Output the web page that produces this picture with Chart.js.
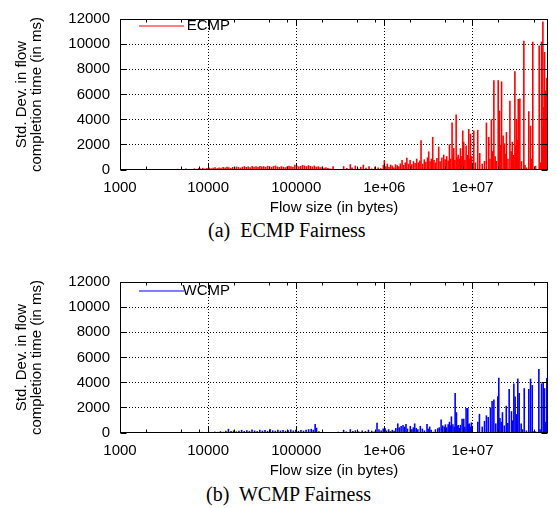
<!DOCTYPE html>
<html><head><meta charset="utf-8">
<script src="https://cdn.jsdelivr.net/npm/chart.js@4"></script>
<style>
html,body{margin:0;padding:0;background:#fff;}
body{width:557px;height:508px;position:relative;overflow:hidden;}
canvas{position:absolute;left:0;width:557px;height:216px;}
#c1{top:0}
#c2{top:263px}
.cap{position:absolute;font:20px "Liberation Serif","Times New Roman",serif;line-height:20px;white-space:pre;color:#000;}
</style></head><body>
<canvas id="c1" width="557" height="216"></canvas>
<canvas id="c2" width="557" height="216"></canvas>
<div class="cap" style="left:208px;top:220px">(a)  ECMP Fairness</div>
<div class="cap" style="left:206px;top:484px">(b)  WCMP Fairness</div>
<script>
// ---- data (flow size in bytes, std. dev. of completion time in ms) ----
const ecmpSizes = [
 4100,4500,5000,5600,6200,7000,7400,7800,8200,8700,9200,9700,10300,10800,11400,12000,12700,13300,14000,14800,
 15600,16400,17200,18100,19000,20000,21000,22100,23300,24500,25800,27100,28500,30000,31600,33200,35000,36800,38700,40700,
 42800,45000,47400,49900,52500,55200,58100,61100,64300,67700,71200,74900,78800,82900,87200,91700,96500,101500,106800,112400,
 118200,124400,130900,137700,144900,152400,160300,168700,177500,186700,196400,206700,217400,228800,240700,250000,262000,275000,300000,345000,
 375000,411000,430000,468000,500000,540000,577000,620000,670000,720000,780000,850000,910000,975000,
 1.0e6,1.04e6,1.08e6,1.13e6,1.18e6,1.23e6,1.28e6,1.34e6,1.40e6,1.46e6,1.52e6,1.59e6,1.66e6,1.73e6,1.8e6,1.88e6,1.96e6,2.05e6,2.14e6,2.23e6,
 2.33e6,2.43e6,2.53e6,2.61e6,2.72e6,2.84e6,2.96e6,3.09e6,3.19e6,3.30e6,3.42e6,3.54e6,3.66e6,3.80e6,3.95e6,4.14e6,4.30e6,4.50e6,4.72e6,4.90e6,
 5.10e6,5.30e6,5.48e6,5.65e6,5.87e6,6.00e6,6.14e6,6.30e6,6.53e6,6.70e6,6.88e6,7.10e6,7.31e6,7.50e6,7.76e6,7.96e6,8.20e6,8.47e6,8.75e6,9.08e6,
 9.30e6,9.49e6,9.80e6,
 1.035e7,1.08e7,1.148e7,1.21e7,1.29e7,1.37e7,1.44e7,1.53e7,1.58e7,1.64e7,1.70e7,1.75e7,1.81e7,1.87e7,1.96e7,2.03e7,2.08e7,2.14e7,2.23e7,2.31e7,
 2.37e7,2.43e7,2.53e7,2.66e7,2.75e7,2.83e7,2.93e7,3.03e7,3.10e7,3.16e7,3.24e7,3.31e7,3.45e7,3.60e7,3.83e7,3.95e7,4.10e7,4.36e7,4.56e7,4.70e7,
 4.84e7,5.20e7,5.72e7,5.90e7,6.08e7,6.20e7,6.30e7,6.45e7,6.58e7,6.70e7,6.80e7,6.98e7
];
const ecmpStdDev = [
 60,90,70,110,80,130,90,150,120,170,110,160,190,140,180,210,150,200,170,230,
 190,250,210,160,240,200,270,230,190,260,300,240,280,220,310,260,290,240,320,270,
 300,250,330,280,250,310,350,280,240,300,260,220,280,340,300,260,420,360,290,330,
 400,350,300,380,320,280,350,260,300,220,250,180,220,160,120,100,300,80,60,300,
 150,460,200,350,120,250,420,180,300,120,250,200,150,400,
 765,300,500,250,420,350,200,450,380,300,520,800,400,600,970,500,800,450,700,550,
 900,600,750,2370,500,850,650,1000,1480,700,900,2630,800,600,950,1860,700,1000,1220,850,
 1100,750,2040,900,3770,1200,1740,800,4410,1000,1220,900,1730,1100,3140,2240,800,1940,1200,3260,
 900,2880,1100,
 3140,600,3190,1350,500,720,3770,2630,900,4030,1500,7140,1100,720,7140,4720,2000,7040,2750,2120,
 1300,3010,900,5510,1500,2240,1200,7850,1900,4030,2400,5640,5690,700,10280,400,200,4670,3520,900,
 10200,330,9890,600,10200,3500,11800,5000,9380,4500,6320,7340
];
const wcmpSizes = [
 4100,4600,5200,5800,6500,7200,7900,8600,9400,10200,11000,11900,12800,13800,14800,15900,17000,18200,19500,20900,
 22400,24000,25700,27500,29400,31500,33700,36100,38600,41300,44200,47300,50600,54100,57900,61900,66200,70800,75700,81000,
 86600,92600,99000,105900,113200,121000,129400,138300,148000,156000,164000,170000,180800,193300,220000,260000,300000,345000,370000,411000,
 440000,470000,510000,560000,610000,660000,720000,770000,826000,870000,920000,970000,
 1.02e6,1.06e6,1.12e6,1.17e6,1.23e6,1.29e6,1.35e6,1.42e6,1.48e6,1.55e6,1.63e6,1.70e6,1.76e6,1.83e6,1.97e6,2.05e6,2.13e6,2.21e6,2.30e6,2.40e6,
 2.56e6,2.70e6,2.85e6,3.05e6,3.15e6,3.27e6,3.40e6,3.60e6,3.80e6,4.04e6,4.20e6,4.41e6,4.60e6,4.80e6,4.93e6,5.10e6,5.30e6,5.48e6,5.60e6,5.77e6,
 6.00e6,6.20e6,6.36e6,6.58e6,6.75e6,6.88e6,7.10e6,7.30e6,7.63e6,7.96e6,8.20e6,8.47e6,8.85e6,9.05e6,9.25e6,9.50e6,9.75e6,
 1.15e7,1.20e7,1.29e7,1.37e7,1.44e7,1.51e7,1.60e7,1.67e7,1.75e7,1.84e7,1.94e7,1.99e7,2.05e7,2.12e7,2.19e7,2.30e7,2.42e7,2.52e7,2.61e7,2.77e7,
 2.85e7,2.95e7,3.05e7,3.15e7,3.27e7,3.39e7,3.57e7,3.70e7,3.87e7,4.10e7,4.36e7,4.56e7,4.77e7,5.00e7,5.20e7,5.67e7,5.85e7,6.08e7,6.35e7,6.58e7,
 6.80e7,6.98e7,7.15e7
];
const wcmpStdDev = [
 40,60,50,70,50,80,60,90,70,100,80,110,90,140,100,170,330,150,200,130,
 180,250,160,220,170,280,200,150,260,190,230,170,300,210,180,260,200,240,180,220,
 280,200,250,170,230,190,260,300,330,260,710,420,140,80,60,50,100,250,120,300,
 160,220,130,200,150,260,180,120,810,300,200,350,
 380,200,300,150,250,180,400,760,450,550,640,500,710,350,560,300,450,760,400,300,
 560,350,200,710,350,510,250,100,300,380,450,1070,600,500,690,450,700,890,600,1320,
 700,500,3180,1650,550,640,400,650,1140,1140,500,1980,1980,700,760,500,840,
 890,1520,510,965,1400,1270,2030,2540,2670,760,2920,4390,1200,890,1650,600,2160,800,3500,1730,
 1000,3940,2900,1500,4320,3180,760,300,3560,200,3500,4320,3810,150,130,5080,300,3940,4010,3560,
 890,4370,6600
];
const xTickValues = [1e3, 1e4, 1e5, 1e6, 1e7];
const xTickLabels = ['1000', '10000', '100000', '1e+06', '1e+07'];
const xMinorTicks = [2e3,5e3,8e3, 2e4,5e4,8e4, 2e5,5e5,8e5, 2e6,5e6,8e6, 2e7,5e7];
const yTickValues = [0, 2000, 4000, 6000, 8000, 10000, 12000];
const xMin = 1000, xMax = 7.2e7, yMin = 0, yMax = 12000;

const SANS = '"Liberation Sans", Arial, Helvetica, sans-serif';
const al = p => Math.round(p - 0.5) + 0.5;

function makeFramePlugin(color, label, keyY, textY) {
  return {
    id: 'frame_' + label,
    afterDatasetsDraw(chart) {
      const {ctx, chartArea: a, scales: {x, y}} = chart;
      ctx.save();
      ctx.strokeStyle = '#000';
      ctx.lineWidth = 1;
      ctx.setLineDash([]);
      const L = a.left + 0.5, R = a.right - 0.5, T = a.top + 0.5, B = a.bottom - 0.5;
      ctx.beginPath();
      for (const v of xTickValues) {
        const px = al(x.getPixelForValue(v));
        ctx.moveTo(px, B); ctx.lineTo(px, B - 6);
        ctx.moveTo(px, T); ctx.lineTo(px, T + 6);
      }
      for (const v of xMinorTicks) {
        const px = al(x.getPixelForValue(v));
        ctx.moveTo(px, B); ctx.lineTo(px, B - 3);
        ctx.moveTo(px, T); ctx.lineTo(px, T + 3);
      }
      for (const v of yTickValues) {
        const py = al(y.getPixelForValue(v));
        ctx.moveTo(L, py); ctx.lineTo(L + 6, py);
        ctx.moveTo(R, py); ctx.lineTo(R - 6, py);
      }
      ctx.stroke();
      ctx.strokeRect(L, T, R - L, B - T);
      // key
      ctx.strokeStyle = color;
      ctx.beginPath();
      ctx.moveTo(139, keyY); ctx.lineTo(184, keyY);
      ctx.stroke();
      ctx.fillStyle = '#000';
      ctx.font = '15px ' + SANS;
      ctx.textAlign = 'right';
      ctx.textBaseline = 'middle';
      ctx.fillText(label, 230, textY);
      ctx.restore();
    }
  };
}

function makeChart(id, sizes, values, color, label, keyY, textY) {
  const data = sizes.map((s, i) => ({x: s, y: values[i]}));
  return new Chart(document.getElementById(id), {
    type: 'bar',
    data: {datasets: [{
      label: label, data: data,
      backgroundColor: color, borderWidth: 0,
      barThickness: 1.6, inflateAmount: 0
    }]},
    plugins: [makeFramePlugin(color, label, keyY, textY)],
    options: {
      responsive: false, animation: false, events: [],
      layout: {padding: {top: 12, right: 9, bottom: 0, left: 0}},
      plugins: {legend: {display: false}, tooltip: {enabled: false}},
      scales: {
        x: {
          type: 'logarithmic', min: xMin, max: xMax, offset: false,
          afterBuildTicks: s => { s.ticks = xTickValues.map(v => ({value: v})); },
          afterFit: s => { s.height = 46; },
          ticks: {autoSkip: false, maxRotation: 0, minRotation: 0, padding: 9, color: '#000',
            font: {family: SANS, size: 15},
            callback: v => { const i = xTickValues.indexOf(v); return i >= 0 ? xTickLabels[i] : ''; }},
          grid: {offset: false, drawTicks: false, lineWidth: 1, borderDash: [1, 2],
            color: c => (c.tick && c.tick.value === xMin) ? 'rgba(0,0,0,0)' : '#000'},
          border: {display: false, dash: [1, 2]},
          title: {display: true, text: 'Flow size (in bytes)', color: '#000',
            font: {family: SANS, size: 15, lineHeight: 1}, padding: {top: 0, bottom: 0.5}}
        },
        y: {
          type: 'linear', min: yMin, max: yMax,
          afterBuildTicks: s => { s.ticks = yTickValues.map(v => ({value: v})); },
          afterFit: s => { s.width = 120; },
          ticks: {padding: 10, color: '#000', font: {family: SANS, size: 15},
            callback: v => String(v)},
          grid: {drawTicks: false, lineWidth: 1, borderDash: [1, 2],
            color: c => (c.tick && (c.tick.value === yMin || c.tick.value === yMax)) ? 'rgba(0,0,0,0)' : '#000'},
          border: {display: false, dash: [1, 2]},
          title: {display: true, text: ['Std. Dev. in flow', 'completion time (in ms)'], color: '#000',
            font: {family: SANS, size: 15, lineHeight: 1}, padding: {top: 14, bottom: 0}}
        }
      }
    }
  });
}

makeChart('c1', ecmpSizes, ecmpStdDev, '#ff0000', 'ECMP', 26, 26.2);
makeChart('c2', wcmpSizes, wcmpStdDev, '#0000ff', 'WCMP', 28, 27.8);
</script>
</body></html>
